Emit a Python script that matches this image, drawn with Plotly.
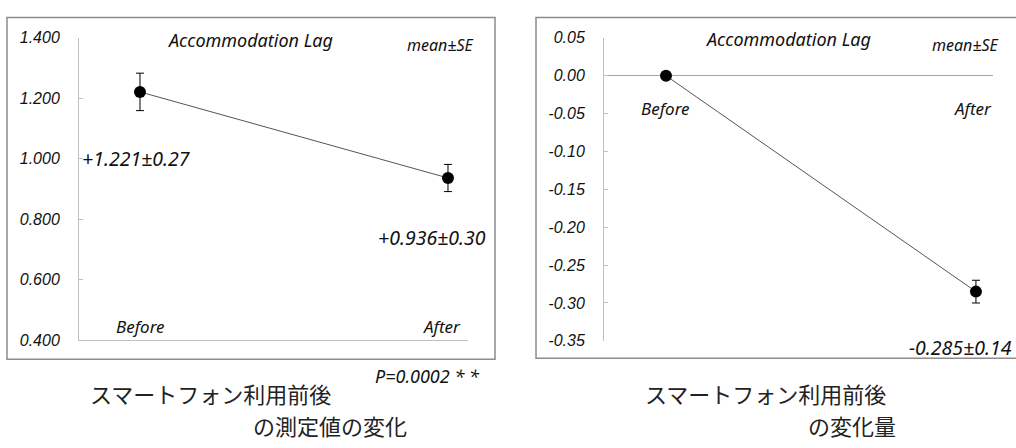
import plotly.graph_objects as go

W, H = 1016, 448

# data
phases = ["Before", "After"]
lag_mean = [1.221, 0.936]
lag_se = [0.062, 0.045]
lag_sd = [0.27, 0.30]
change_mean = [0.0, -0.285]
change_se = [0.0, 0.015]
change_sd = 0.14
p_value = "0.0002"
left_ticks = [0.4, 0.6, 0.8, 1.0, 1.2, 1.4]
right_ticks = [0.05, 0.0, -0.05, -0.10, -0.15, -0.20, -0.25, -0.30, -0.35]

xpos = [0, 1]


def px(x):
    return x / W


def py(y):
    return 1 - y / H


fig = go.Figure()

marker = dict(color="black", size=12)
line = dict(color="#555555", width=1)

fig.add_trace(go.Scatter(
    x=xpos, y=lag_mean, mode="lines+markers", marker=marker, line=line,
    error_y=dict(type="data", array=lag_se, color="black", thickness=1, width=4),
    xaxis="x", yaxis="y", showlegend=False, hoverinfo="skip"))

fig.add_trace(go.Scatter(
    x=xpos, y=change_mean, mode="lines+markers", marker=marker, line=line,
    error_y=dict(type="data", array=change_se, color="black", thickness=1,
                 width=4),
    xaxis="x2", yaxis="y2", showlegend=False, hoverinfo="skip"))

tickfont = dict(family="Liberation Sans", size=16, color="#111111",
                style="italic")
axcol = "#bfbfbf"

fig.update_layout(
    width=W, height=H,
    margin=dict(l=0, r=0, t=0, b=0),
    paper_bgcolor="white", plot_bgcolor="white",
    xaxis=dict(domain=[px(79), px(468)], range=[-0.198, 1.065],
               showticklabels=False, showgrid=False, zeroline=False,
               showline=True, linecolor=axcol, linewidth=1, ticks=""),
    yaxis=dict(domain=[py(345), py(31)], range=[0.4, 1.4],
               tickvals=left_ticks,
               ticktext=[f"{v:.3f}" for v in left_ticks],
               showgrid=False, zeroline=False, showline=True,
               linecolor=axcol, linewidth=1, ticks="inside", ticklen=4,
               tickcolor=axcol, tickfont=tickfont, ticklabelstandoff=15),
    xaxis2=dict(domain=[px(604), px(993)], range=[-0.2, 1.055],
                anchor="y2", showticklabels=False, showgrid=False,
                zeroline=False, showline=False, ticks=""),
    yaxis2=dict(domain=[py(346), py(31)], range=[-0.35, 0.05],
                anchor="x2", tickvals=right_ticks,
                ticktext=[f"{v:.2f}" for v in right_ticks],
                showgrid=False, zeroline=True, zerolinecolor="#a6a6a6",
                zerolinewidth=1, showline=True,
                linecolor=axcol, linewidth=1, ticks="inside", ticklen=4,
                tickcolor=axcol, tickfont=tickfont, ticklabelstandoff=15),
)

# panel frames
frame = dict(color="#8c8c8c", width=1.5)
fig.add_shape(type="rect", xref="paper", yref="paper",
              x0=px(7), x1=px(495), y0=py(365), y1=py(10), line=frame)
fig.add_shape(type="rect", xref="paper", yref="paper",
              x0=px(536), x1=px(1030), y0=py(364), y1=py(10), line=frame)


def label(text, x, y, size=15, xanchor="center", family="Noto Sans",
          italic=True, color="#111111", align="center"):
    fig.add_annotation(
        text=text, x=px(x), y=py(y), xref="paper", yref="paper",
        xanchor=xanchor, yanchor="middle", showarrow=False, align=align,
        font=dict(family=family, size=size, color=color,
                  style="italic" if italic else "normal"))


# titles and notes
label("Accommodation Lag", 250, 33, size=18)
label("mean±SE", 440, 38, size=16)
label("Accommodation Lag", 788, 32, size=18)
label("mean±SE", 965, 38, size=16)

# category labels
label(phases[0], 140, 331, size=17)
label(phases[1], 442, 331, size=17)
label(phases[0], 665, 104, size=17)
label(phases[1], 973, 104, size=17)

# value labels
label(f"+{lag_mean[0]:.3f}±{lag_sd[0]:.2f}", 80, 156, size=19.5,
      xanchor="left")
label(f"+{lag_mean[1]:.3f}±{lag_sd[1]:.2f}", 376, 239, size=19.5,
      xanchor="left")
label(f"{change_mean[1]:.3f}±{change_sd:.2f}", 907, 353, size=19.5,
      xanchor="left")

label(f"P={p_value} * *", 373, 383, size=18, xanchor="left")

# captions, two lines each
jp = "Noto Sans CJK JP"
cap = dict(size=22, xanchor="left", family=jp, italic=False, color="#222222")
label("スマートフォン利用前後", 88, 400, **cap)
label("の測定値の変化", 251, 433, **cap)
label("スマートフォン利用前後", 643, 400, **cap)
label("の変化量", 806, 433, **cap)

fig.write_html("out.html")
